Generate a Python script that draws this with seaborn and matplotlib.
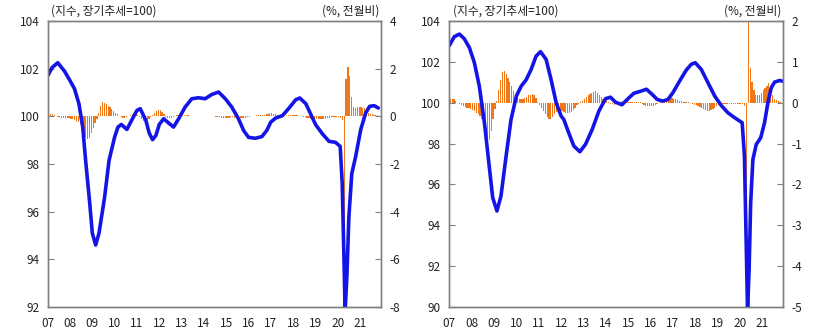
import numpy as np
import pandas as pd
import matplotlib
matplotlib.use("Agg")
import matplotlib.pyplot as plt
import seaborn as sns

# ---------------- data ----------------
year_ticks = list(range(2007, 2022))
year_labels = [f"{y % 100:02d}" for y in year_ticks]

# Left panel: index (long-term trend = 100), read at decimal years
left_line_t = [2007.0, 2007.2, 2007.45, 2007.75, 2008.0, 2008.2, 2008.4, 2008.57, 2008.7, 2008.87,
               2009.0, 2009.15, 2009.3, 2009.55, 2009.75, 2010.0, 2010.15, 2010.3, 2010.55, 2010.8,
               2011.0, 2011.15, 2011.4, 2011.55, 2011.7, 2011.85, 2012.0, 2012.2, 2012.42, 2012.64,
               2012.87, 2013.16, 2013.46, 2013.76, 2014.06, 2014.36, 2014.66, 2014.96, 2015.25, 2015.55,
               2015.78, 2016.0, 2016.3, 2016.6, 2016.82, 2017.0, 2017.22, 2017.52, 2017.82, 2018.12,
               2018.3, 2018.57, 2018.8, 2019.01, 2019.31, 2019.61, 2019.9, 2020.11, 2020.2, 2020.27,
               2020.33, 2020.41, 2020.5, 2020.63, 2020.8, 2021.03, 2021.25, 2021.43, 2021.63, 2021.82]
left_line_v = [101.7, 102.05, 102.25, 101.9, 101.5, 101.16, 100.53, 99.55, 98.15, 96.5,
               95.1, 94.6, 95.1, 96.6, 98.15, 99.13, 99.55, 99.66, 99.45, 99.9,
               100.25, 100.32, 99.83, 99.3, 99.02, 99.2, 99.66, 99.9, 99.72, 99.55,
               99.9, 100.39, 100.74, 100.78, 100.74, 100.92, 101.02, 100.74, 100.39, 99.9,
               99.41, 99.12, 99.08, 99.15, 99.41, 99.76, 99.93, 100.03, 100.35, 100.7,
               100.77, 100.53, 100.07, 99.65, 99.27, 98.95, 98.91, 98.74, 97.2, 94.4,
               91.8, 93.3, 95.8, 97.6, 98.3, 99.44, 100.14, 100.42, 100.45, 100.35]

# Left panel: monthly % change, Jan 2007 - Oct 2021
left_bars = [
    0.08, 0.10, 0.08, 0.05, 0.02, -0.02, -0.04, -0.05, -0.06, -0.07, -0.08, -0.08,   # 2007
    -0.10, -0.12, -0.15, -0.20, -0.25, -0.32, -0.45, -0.65, -0.85, -0.95, -0.90, -0.70,  # 2008
    -0.50, -0.30, -0.10, 0.15, 0.45, 0.60, 0.58, 0.52, 0.45, 0.38, 0.30, 0.22,   # 2009
    0.15, 0.08, 0.03, -0.02, -0.05, -0.05, -0.03, 0.02, 0.06, 0.10, 0.12, 0.10,   # 2010
    0.05, -0.02, -0.10, -0.18, -0.22, -0.20, -0.12, -0.04, 0.05, 0.15, 0.22, 0.26,  # 2011
    0.25, 0.18, 0.08, -0.02, -0.06, -0.08, -0.06, -0.02, 0.02, 0.05, 0.07, 0.07,  # 2012
    0.06, 0.06, 0.05, 0.04, 0.03, 0.02, 0.02, 0.03, 0.03, 0.02, 0.01, 0.01,   # 2013
    0.02, 0.03, 0.03, 0.03, 0.02, 0.00, -0.02, -0.03, -0.04, -0.05, -0.05, -0.05,  # 2014
    -0.05, -0.05, -0.04, -0.04, -0.05, -0.06, -0.07, -0.08, -0.08, -0.07, -0.05, -0.03,  # 2015
    -0.02, 0.00, 0.02, 0.03, 0.04, 0.05, 0.05, 0.06, 0.07, 0.08, 0.10, 0.12,   # 2016
    0.12, 0.10, 0.08, 0.05, 0.03, 0.02, 0.02, 0.03, 0.04, 0.05, 0.06, 0.06,   # 2017
    0.06, 0.05, 0.04, 0.02, 0.00, -0.02, -0.04, -0.06, -0.08, -0.10, -0.12, -0.12,  # 2018
    -0.12, -0.12, -0.12, -0.12, -0.11, -0.10, -0.08, -0.06, -0.04, -0.03, -0.02, -0.02,  # 2019
    -0.03, -0.05, -0.15, -8.3, 1.55, 2.09, 1.70, 0.82, 0.40, 0.37, 0.38, 0.38,   # 2020
    0.38, 0.37, 0.35, 0.30, 0.15, 0.10, 0.08, 0.06, 0.05, 0.04,                  # 2021
]

# Right panel: index (long-term trend = 100)
right_line_t = [2007.0, 2007.22, 2007.45, 2007.67, 2007.9, 2008.12, 2008.34, 2008.57, 2008.8, 2008.94,
                2009.13, 2009.31, 2009.54, 2009.76, 2010.0, 2010.22, 2010.43, 2010.66, 2010.88, 2011.08,
                2011.33, 2011.55, 2011.78, 2012.0, 2012.12, 2012.34, 2012.57, 2012.84, 2013.09, 2013.39,
                2013.69, 2013.99, 2014.21, 2014.43, 2014.72, 2014.96, 2015.25, 2015.55, 2015.82, 2016.07,
                2016.3, 2016.55, 2016.78, 2017.0, 2017.3, 2017.6, 2017.82, 2018.0, 2018.27, 2018.57,
                2018.87, 2019.16, 2019.46, 2019.76, 2020.1, 2020.2, 2020.27, 2020.34, 2020.41, 2020.48,
                2020.58, 2020.73, 2020.93, 2021.1, 2021.25, 2021.4, 2021.55, 2021.78, 2021.88]
right_line_v = [102.8, 103.23, 103.36, 103.13, 102.69, 101.96, 100.82, 99.02, 96.74, 95.35,
                94.7, 95.43, 97.39, 99.18, 100.33, 100.82, 101.11, 101.63, 102.28, 102.5,
                102.12, 101.14, 100.0, 99.35, 99.18, 98.53, 97.88, 97.6, 97.96, 98.69,
                99.59, 100.2, 100.27, 100.03, 99.9, 100.16, 100.46, 100.56, 100.66, 100.41,
                100.16, 100.08, 100.16, 100.49, 101.06, 101.6, 101.88, 101.96, 101.63, 100.98,
                100.33, 99.87, 99.51, 99.27, 99.02, 97.39, 93.64, 89.8, 91.84, 95.1,
                97.23, 97.96, 98.29, 99.02, 100.0, 100.73, 101.01, 101.09, 101.06]

right_bars = [
    0.10, 0.10, 0.08, 0.04, 0.00, -0.02, -0.05, -0.08, -0.10, -0.12, -0.13, -0.15,  # 2007
    -0.17, -0.20, -0.24, -0.28, -0.33, -0.40, -0.55, -0.70, -0.85, -0.92, -0.70, -0.40,  # 2008
    -0.15, 0.05, 0.30, 0.55, 0.75, 0.78, 0.70, 0.60, 0.50, 0.40, 0.28, 0.18,   # 2009
    0.12, 0.10, 0.10, 0.10, 0.12, 0.15, 0.18, 0.20, 0.22, 0.20, 0.12, 0.03,   # 2010
    -0.05, -0.12, -0.20, -0.28, -0.35, -0.40, -0.41, -0.35, -0.28, -0.22, -0.20, -0.20,  # 2011
    -0.20, -0.22, -0.24, -0.25, -0.24, -0.22, -0.18, -0.12, -0.06, -0.02, 0.02, 0.05,  # 2012
    0.10, 0.14, 0.18, 0.22, 0.25, 0.27, 0.28, 0.25, 0.20, 0.15, 0.10, 0.07,   # 2013
    0.04, 0.02, -0.02, -0.04, -0.05, -0.04, -0.02, 0.02, 0.04, 0.05, 0.05, 0.04,  # 2014
    0.03, 0.02, 0.02, 0.03, 0.03, 0.02, 0.01, -0.02, -0.05, -0.08, -0.09, -0.09,  # 2015
    -0.09, -0.08, -0.06, -0.03, 0.00, 0.03, 0.05, 0.08, 0.10, 0.12, 0.12, 0.11,  # 2016
    0.10, 0.08, 0.06, 0.05, 0.04, 0.03, 0.02, 0.02, 0.01, 0.00, -0.03, -0.05,  # 2017
    -0.06, -0.08, -0.10, -0.13, -0.15, -0.18, -0.20, -0.20, -0.18, -0.15, -0.12, -0.08,  # 2018
    -0.06, -0.05, -0.04, -0.03, -0.03, -0.02, -0.02, -0.02, -0.02, -0.02, -0.02, -0.02,  # 2019
    -0.02, -0.03, -0.08, -5.4, 2.4, 0.85, 0.50, 0.30, 0.20, 0.18, 0.20, 0.25,   # 2020
    0.30, 0.36, 0.42, 0.48, 0.38, 0.20, 0.10, 0.06, 0.04, 0.03,                 # 2021
]

left_title = "(지수, 장기추세=100)"
right_title = "(%, 전월비)"

# ---------------- style ----------------
sns.set_style("white")
plt.rcParams["font.family"] = ["Noto Sans CJK KR", "DejaVu Sans"]

LINE_C = "#1414E6"
BAR_C = "#F07818"
SPINE_C = "#808080"
TEXT_C = "#222222"

fig = plt.figure(figsize=(8.18, 3.31), dpi=100)
ax_l = fig.add_axes([0.0583, 0.0725, 0.4075, 0.864])
ax_r = fig.add_axes([0.5493, 0.0725, 0.4083, 0.864])


def draw(ax, line_t, line_v, bars, ylim, y2lim, yticks, y2ticks):
    ax2 = ax.twinx()
    months = 2007 + (np.arange(len(bars)) + 0.5) / 12.0
    ax2.bar(months, bars, width=0.055, color=BAR_C, linewidth=0)
    df = pd.DataFrame({"t": line_t, "v": line_v})
    sns.lineplot(data=df, x="t", y="v", ax=ax, color=LINE_C, linewidth=2.6,
                 estimator=None, sort=False)
    ax.set_zorder(ax2.get_zorder() + 1)
    ax.patch.set_visible(False)
    ax.set_xlim(2007, 2021.94)
    ax.set_ylim(*ylim)
    ax2.set_ylim(*y2lim)
    ax.set_yticks(yticks)
    ax.set_yticklabels([str(v) for v in yticks])
    ax2.set_yticks(y2ticks)
    ax2.set_yticklabels([str(v) for v in y2ticks])
    ax.set_xticks(year_ticks)
    ax.set_xticklabels(year_labels)
    ax.set_xlabel("")
    ax.set_ylabel("")
    for a in (ax, ax2):
        for s in a.spines.values():
            s.set_color(SPINE_C)
            s.set_linewidth(1.0)
    ax.tick_params(axis="x", direction="in", length=4, color=SPINE_C, pad=7,
                   labelsize=8.5, colors=TEXT_C)
    ax.tick_params(axis="y", direction="in", length=4, color=SPINE_C, pad=6,
                   labelsize=8.5, colors=TEXT_C)
    ax2.tick_params(axis="y", direction="in", length=4, color=SPINE_C, pad=6,
                    labelsize=8.5, colors=TEXT_C)
    ax.text(0.01, 1.012, left_title, transform=ax.transAxes, ha="left", va="bottom",
            fontsize=8.5, color=TEXT_C)
    ax.text(0.995, 1.012, right_title, transform=ax.transAxes, ha="right", va="bottom",
            fontsize=8.5, color=TEXT_C)
    return ax2


draw(ax_l, left_line_t, left_line_v, left_bars, (92, 104), (-8, 4),
     [92, 94, 96, 98, 100, 102, 104], [-8, -6, -4, -2, 0, 2, 4])
draw(ax_r, right_line_t, right_line_v, right_bars, (90, 104), (-5, 2),
     [90, 92, 94, 96, 98, 100, 102, 104], [-5, -4, -3, -2, -1, 0, 1, 2])

fig.savefig("out.png", dpi=100)
